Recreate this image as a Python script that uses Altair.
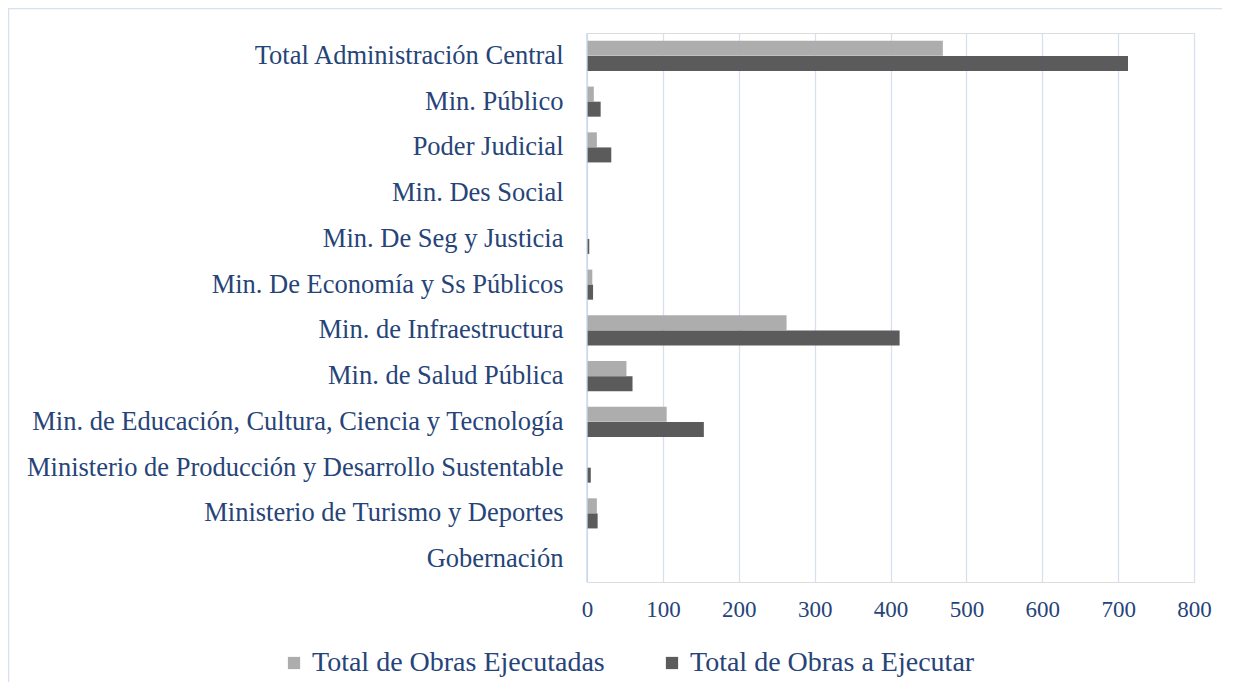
import altair as alt
import pandas as pd

categories = [
    "Total Administración Central",
    "Min. Público",
    "Poder Judicial",
    "Min. Des Social",
    "Min. De Seg y Justicia",
    "Min. De Economía y Ss Públicos",
    "Min. de Infraestructura",
    "Min. de Salud Pública",
    "Min. de Educación, Cultura, Ciencia y Tecnología",
    "Ministerio de Producción y Desarrollo Sustentable",
    "Ministerio de Turismo y Deportes",
    "Gobernación",
]
ejecutadas = [469, 9, 13, 0, 0, 7, 263, 52, 105, 0, 13, 0]
a_ejecutar = [713, 18, 32, 0, 3, 8, 412, 60, 154, 5, 14, 0]
series = ["Total de Obras Ejecutadas", "Total de Obras a Ejecutar"]
colors = ["#ADADAD", "#5B5B5B"]
x_ticks = [0, 100, 200, 300, 400, 500, 600, 700, 800]

rows = []
for c, a, b in zip(categories, ejecutadas, a_ejecutar):
    rows.append({"cat": c, "serie": series[0], "val": a})
    rows.append({"cat": c, "serie": series[1], "val": b})
df = pd.DataFrame(rows)

txt = "#264478"
font = "Liberation Serif"

bars = alt.Chart(df).mark_bar(size=15).encode(
    y=alt.Y("cat:N", sort=categories, title=None,
            scale=alt.Scale(paddingInner=0.34, paddingOuter=0.17),
            axis=alt.Axis(labelFont=font, labelFontSize=26.5, labelColor=txt,
                          labelPadding=24, ticks=False, domain=False, labelLimit=700)),
    yOffset=alt.YOffset("serie:N", sort=series),
    x=alt.X("val:Q", title=None,
            scale=alt.Scale(domain=[0, 800], nice=False),
            axis=alt.Axis(values=x_ticks, labelFont=font, labelFontSize=23, labelColor=txt,
                          grid=True, gridColor="#D6E0F0", gridWidth=1.3, labelFlush=False,
                          ticks=False, domain=False, labelPadding=16)),
    color=alt.Color("serie:N", sort=series,
                    scale=alt.Scale(domain=series, range=colors),
                    legend=alt.Legend(title=None, orient="none", legendX=-307, legendY=616,
                                      direction="horizontal", symbolType="square",
                                      symbolSize=150, symbolStrokeWidth=0,
                                      labelFont=font, labelFontSize=28, labelColor=txt,
                                      labelOffset=4, columnPadding=53, labelLimit=500)),
)

yaxis_line = alt.Chart(pd.DataFrame({"v": [0]})).mark_rule(color="#C8D6EE", strokeWidth=1.3).encode(
    x="v:Q"
)

border_top = alt.Chart(pd.DataFrame({"v": [0]})).mark_rule(color="#D6E0F0", strokeWidth=1.5, clip=False).encode(
    x=alt.value(-579), x2=alt.value(660), y=alt.value(-24.5)
)
border_left = alt.Chart(pd.DataFrame({"v": [0]})).mark_rule(color="#D6E0F0", strokeWidth=1.5, clip=False).encode(
    x=alt.value(-578.5), y=alt.value(-25), y2=alt.value(700)
)

chart = alt.layer(bars, yaxis_line, border_top, border_left).properties(
    width=607, height=549,
    autosize=alt.AutoSizeParams(type="none"),
    padding={"left": 579, "top": 25, "right": 28, "bottom": 100},
).configure_view(stroke=None).configure(background="white")

chart.save("out.html", embed_options={"renderer": "svg", "actions": False})
